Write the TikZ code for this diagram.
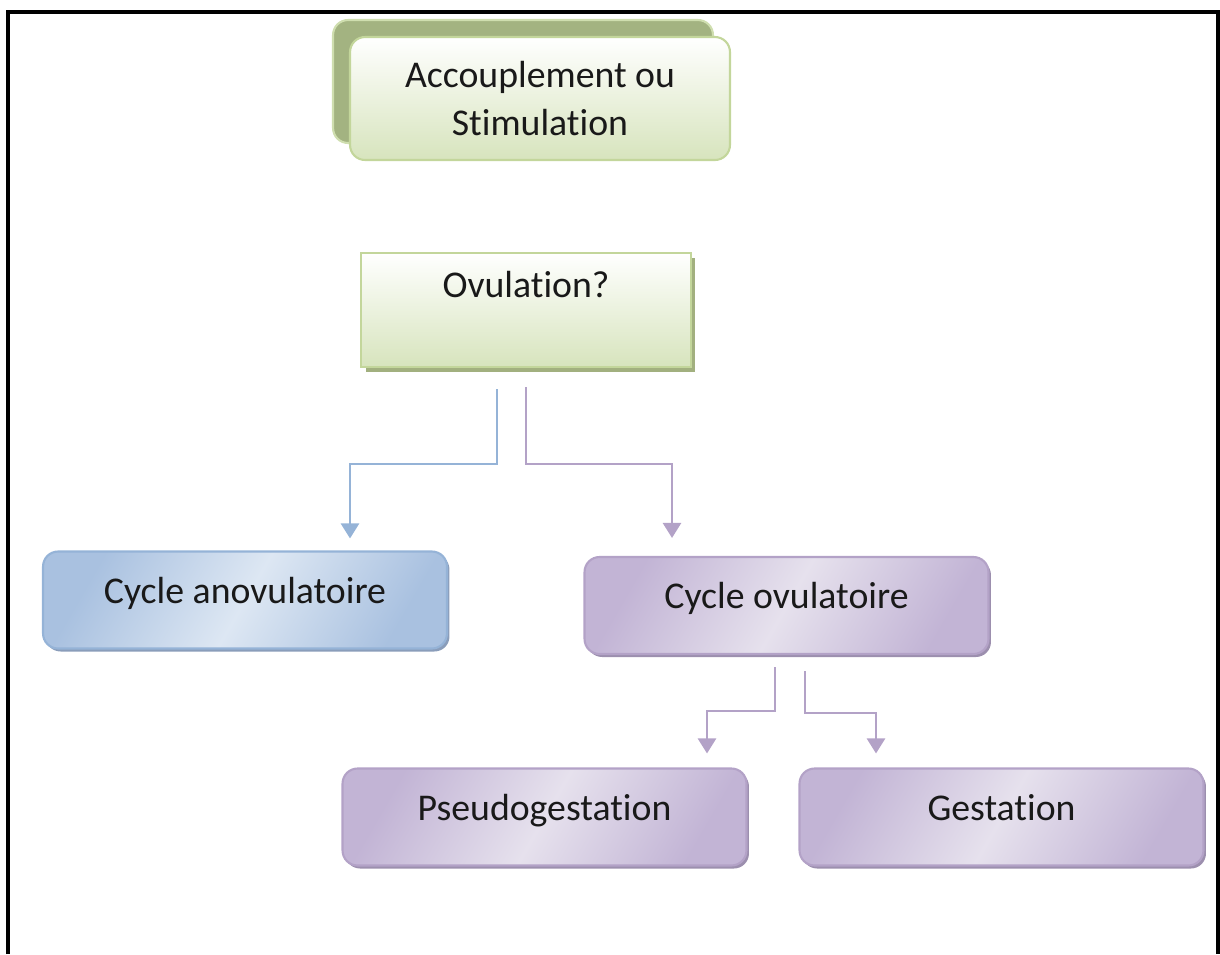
\documentclass[tikz,border=0pt]{standalone}
\usepackage{fontspec}
\setmainfont{Carlito}[Ligatures=NoCommon]
\usetikzlibrary{arrows.meta,calc,shadows}
\definecolor{grnedge}{HTML}{C3D69B}
\definecolor{grnfill}{HTML}{D7E4BD}
\definecolor{grnback}{HTML}{A3B381}
\definecolor{grnshadow}{HTML}{A2B07F}
\definecolor{bluedge}{HTML}{95B3D7}
\definecolor{bluedark}{HTML}{A9C1E0}
\definecolor{bluelight}{HTML}{DDE7F3}
\definecolor{blueshadow}{HTML}{8A9DBA}
\definecolor{puredge}{HTML}{B3A2C7}
\definecolor{purdark}{HTML}{C2B4D5}
\definecolor{purlight}{HTML}{E6E1ED}
\definecolor{purshadow}{HTML}{9C8FAE}

\begin{document}
\begin{tikzpicture}[x=0.02cm,y=-0.02cm,>={Triangle[width=0.36cm,length=0.3cm]},
  every node/.style={font=\fontsize{21.5}{27}\selectfont,text=black!90},
  topbox/.style={draw=grnedge,line width=1.2pt,rounded corners=0.3cm,top color=white,bottom color=grnfill,
    minimum width=7.6cm,minimum height=2.46cm,align=center,
    copy shadow={shadow xshift=-0.34cm,shadow yshift=0.34cm,fill=grnback,draw=grnedge!80}},
  qbox/.style={draw=grnedge,line width=1.2pt,top color=white,bottom color=grnfill,
    minimum width=6.6cm,minimum height=2.28cm,
    drop shadow={shadow xshift=0.09cm,shadow yshift=-0.1cm,fill=grnshadow,opacity=1}},
  cyc/.style={rounded corners=0.3cm,line width=1.2pt,minimum width=8.08cm,minimum height=1.94cm,
    text height=0.5cm,text depth=0.38cm},
  bluebox/.style={cyc,draw=bluedge,left color=bluedark,right color=bluedark,middle color=bluelight,shading angle=60,
    drop shadow={shadow xshift=0.05cm,shadow yshift=-0.06cm,fill=blueshadow,opacity=1}},
  purbox/.style={cyc,draw=puredge,left color=purdark,right color=purdark,middle color=purlight,shading angle=60,
    drop shadow={shadow xshift=0.05cm,shadow yshift=-0.06cm,fill=purshadow,opacity=1}},
  barr/.style={->,draw=bluedge,line width=1.5pt},
  parr/.style={->,draw=puredge,line width=1.5pt}]
\useasboundingbox (0,0) rectangle (1220,954);
\draw[line width=0.07cm] (8,954) -- (8,12) -- (1218,12) -- (1218,954);
\node (acc) [topbox] at (540,98.5) {Accouplement ou\\Stimulation};
\node (ovul) [qbox,label={[anchor=center,yshift=-0.66cm]north:Ovulation?}] at (526,310) {};
\node (anov) [bluebox] at (245,600) {Cycle anovulatoire};
\node (ovcyc) [purbox] at (786.5,605.5) {Cycle ovulatoire};
\node (pseudo) [purbox] at (544.5,817) {Pseudogestation};
\node (gest) [purbox] at (1001.5,817) {Gestation};
\draw[barr] ($(ovul.south)+(-29,21)$) -- ++(0,75) -| ($(anov.north)+(105,-12)$);
\draw[parr] ($(ovul.south)+(0,19)$) -- ++(0,77) -| ($(ovcyc.north)+(-114.5,-18)$);
\draw[parr] ($(ovcyc.south)+(-11.5,12)$) -- ++(0,44) -| ($(pseudo.north)+(162.5,-14)$);
\draw[parr] ($(ovcyc.south)+(18.5,16)$) -- ++(0,42) -| ($(gest.north)+(-125.5,-14)$);
\end{tikzpicture}
\end{document}
